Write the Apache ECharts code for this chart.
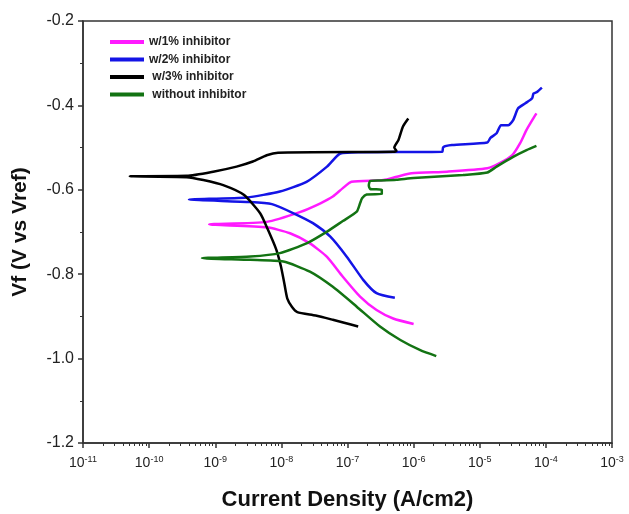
<!DOCTYPE html>
<html>
<head>
<meta charset="utf-8">
<script src="https://cdn.jsdelivr.net/npm/echarts@6/dist/echarts.min.js"></script>
<style>
html,body{margin:0;padding:0;background:#fff;}
#chart{width:629px;height:514px;}
</style>
</head>
<body>
<div id="chart"></div>
<script>
// ---- data (current density A/cm2, potential V vs ref) ----
const seriesNames = ['w/1% inhibitor', 'w/2% inhibitor', ' w/3% inhibitor', ' without inhibitor'];

const w1Current = [7.2e-5, 6.5e-5, 5.1e-5, 4.1e-5, 3.1e-5, 2.0e-5, 1.3e-5, 3.2e-6, 9.3e-7, 5.6e-7, 3.5e-7, 1.15e-7, 8.5e-8, 6.0e-8, 3.9e-8, 1.9e-8, 6.0e-9, 8.1e-10,
  6.0e-9, 1.35e-8, 2.7e-8, 4.9e-8, 8.5e-8, 1.55e-7, 2.75e-7, 4.9e-7, 1.0e-6];
const w1Potential = [-0.419, -0.430, -0.458, -0.489, -0.518, -0.537, -0.549, -0.557, -0.561, -0.569, -0.577, -0.581, -0.596, -0.616, -0.632, -0.653, -0.676, -0.682,
  -0.689, -0.703, -0.727, -0.759, -0.806, -0.853, -0.885, -0.905, -0.918];

const w2Current = [8.7e-5, 7.4e-5, 6.5e-5, 6.2e-5, 4.9e-5, 3.8e-5, 3.2e-5, 2.7e-5, 2.1e-5, 1.8e-5, 1.45e-5, 1.3e-5, 3.8e-6, 2.8e-6, 2.7e-6, 1.55e-7, 7.8e-8, 4.9e-8, 2.4e-8, 9.5e-9, 3.0e-9, 4.0e-10,
  3.4e-9, 7.2e-9, 1.5e-8, 3.0e-8, 5.5e-8, 9.8e-8, 1.74e-7, 2.75e-7, 5.2e-7];
const w2Potential = [-0.358, -0.368, -0.372, -0.383, -0.395, -0.407, -0.435, -0.447, -0.447, -0.466, -0.477, -0.488, -0.494, -0.499, -0.510, -0.511, -0.514, -0.545, -0.581, -0.604, -0.618, -0.623,
  -0.629, -0.634, -0.655, -0.679, -0.711, -0.759, -0.814, -0.845, -0.856];

const w3Current = [8.3e-7, 6.9e-7, 5.9e-7, 5.1e-7, 5.5e-7, 5.0e-7, 8.9e-9, 6.0e-9, 3.7e-9, 2.1e-9, 9.3e-10, 3.7e-10, 5.1e-11,
  3.7e-10, 6.6e-10, 1.32e-9, 2.7e-9, 4.8e-9, 6.2e-9, 8.3e-9, 9.8e-9, 1.1e-8, 1.23e-8, 1.45e-8, 1.74e-8, 3.3e-8, 6.0e-8, 8.9e-8, 1.45e-7];
const w3Potential = [-0.431, -0.450, -0.482, -0.500, -0.508, -0.510, -0.512, -0.518, -0.533, -0.545, -0.557, -0.567, -0.568,
  -0.570, -0.577, -0.589, -0.612, -0.656, -0.693, -0.740, -0.780, -0.819, -0.858, -0.878, -0.890, -0.898, -0.908, -0.915, -0.924];

const w0Current = [7.2e-5, 5.1e-5, 3.2e-5, 1.8e-5, 1.3e-5, 5.6e-6, 1.0e-6, 5.5e-7, 3.2e-7, 2.2e-7, 2.1e-7, 2.2e-7, 3.3e-7, 3.3e-7, 1.95e-7, 1.66e-7, 1.55e-7, 1.38e-7, 8.5e-8, 4.9e-8, 2.4e-8, 9.5e-9, 3.4e-9, 6.3e-10,
  3.4e-9, 1.07e-8, 2.7e-8, 6.0e-8, 1.38e-7, 3.1e-7, 6.3e-7, 1.26e-6, 2.2e-6];
const w0Potential = [-0.496, -0.506, -0.522, -0.545, -0.559, -0.565, -0.572, -0.576, -0.578, -0.579, -0.590, -0.598, -0.600, -0.610, -0.611, -0.620, -0.632, -0.652, -0.674, -0.699, -0.727, -0.750, -0.758, -0.762,
  -0.766, -0.770, -0.794, -0.830, -0.877, -0.924, -0.956, -0.980, -0.994];

const xTickExponents = [-11, -10, -9, -8, -7, -6, -5, -4, -3];
const yTicks = [-1.2, -1.0, -0.8, -0.6, -0.4, -0.2];

// ---- build ----
const colors = ['#ff1aff', '#1414e6', '#000000', '#137313'];
const currents = [w1Current, w2Current, w3Current, w0Current];
const potentials = [w1Potential, w2Potential, w3Potential, w0Potential];

const majorVals = xTickExponents.map(e => Number('1e' + e));
const minorVals = [];
xTickExponents.slice(0, -1).forEach(e => {
  for (let k = 2; k <= 9; k++) minorVals.push(Number(k + 'e' + e));
});

const series = seriesNames.map((name, i) => ({
  name: name,
  type: 'line',
  data: currents[i].map((c, j) => [c, potentials[i][j]]),
  showSymbol: false,
  symbol: 'none',
  smooth: 0.2,
  lineStyle: { width: 2.5, color: colors[i] },
  itemStyle: { color: colors[i] },
  xAxisIndex: 0,
  yAxisIndex: 0,
  z: 3 + i
}));

const chart = echarts.init(document.getElementById('chart'), null, { renderer: 'canvas' });
const font = 'Liberation Sans, Arial, sans-serif';
chart.setOption({
  animation: false,
  backgroundColor: '#fff',
  grid: { left: 83, right: 17, top: 21, bottom: 71, containLabel: false, outerBoundsMode: 'none', show: true, borderColor: '#333', borderWidth: 1.5, backgroundColor: 'transparent' },
  legend: {
    data: seriesNames,
    orient: 'vertical',
    left: 110,
    top: 35,
    padding: 0,
    itemWidth: 34,
    itemHeight: 4,
    itemGap: 3.5,
    icon: 'rect',
    textStyle: { fontFamily: font, fontSize: 12, fontWeight: 'bold', color: '#222', lineHeight: 14 }
  },
  xAxis: [{
    type: 'log',
    logBase: 10,
    min: 1e-11,
    max: 1e-3,
    name: 'Current Density (A/cm2)',
    nameLocation: 'middle',
    nameGap: 46,
    nameTextStyle: { fontFamily: font, fontSize: 22, fontWeight: 'bold', color: '#111' },
    axisLine: { show: true, lineStyle: { color: '#333', width: 1.5 } },
    axisTick: { show: true, length: 5, inside: false, customValues: majorVals, lineStyle: { color: '#333', width: 1.5 } },
    axisLabel: {
      show: true, customValues: majorVals, margin: 12,
      fontFamily: font, fontSize: 14, color: '#222',
      formatter: v => {
        const e = Math.round(Math.log10(v));
        return '10{s|' + String(e) + '}';
      },
      rich: { s: { fontSize: 9, verticalAlign: 'top', padding: [0, 0, 8, 0], fontFamily: font, color: '#222' } }
    },
    splitLine: { show: false },
    minorTick: { show: false }
  }, {
    type: 'log',
    logBase: 10,
    min: 1e-11,
    max: 1e-3,
    position: 'bottom',
    axisLine: { show: false },
    axisTick: { show: true, length: 3, inside: false, customValues: minorVals, lineStyle: { color: '#333', width: 1 } },
    axisLabel: { show: false },
    splitLine: { show: false }
  }],
  yAxis: {
    type: 'value',
    min: -1.2,
    max: -0.2,
    interval: 0.2,
    name: 'Vf (V vs Vref)',
    nameLocation: 'middle',
    nameGap: 52,
    nameRotate: 90,
    nameTextStyle: { fontFamily: font, fontSize: 21, fontWeight: 'bold', color: '#111' },
    axisLine: { show: true, lineStyle: { color: '#333', width: 1.5 } },
    axisTick: { show: true, length: 5, inside: false, lineStyle: { color: '#333', width: 1.5 } },
    minorTick: { show: true, splitNumber: 2, length: 3, lineStyle: { color: '#333', width: 1 } },
    axisLabel: { fontFamily: font, fontSize: 16, color: '#222', margin: 9, formatter: v => v.toFixed(1) },
    splitLine: { show: false }
  },
  series: series
});
</script>
</body>
</html>
